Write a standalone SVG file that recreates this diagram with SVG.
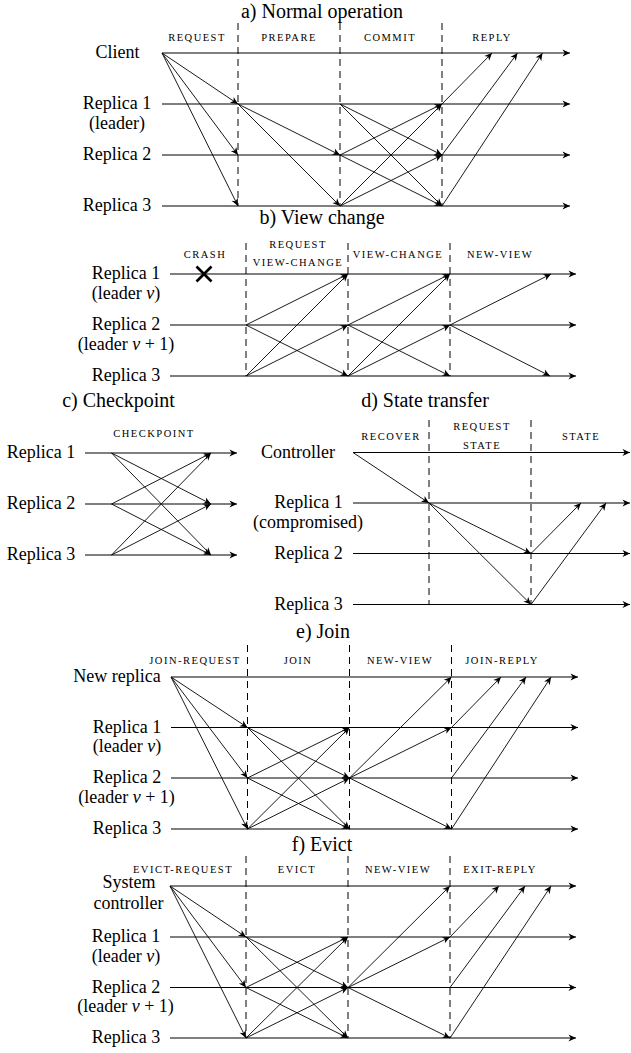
<svg xmlns="http://www.w3.org/2000/svg" width="631" height="1053" viewBox="0 0 631 1053">
<style>
.tl{stroke:#000;stroke-width:1.1;fill:none;marker-end:url(#ah)}
.m{stroke:#000;stroke-width:0.9;fill:none;marker-end:url(#ah)}
.d{stroke:#000;stroke-width:1;stroke-dasharray:7 5;fill:none}
text{font-family:"Liberation Serif","Times New Roman",serif;fill:#000}
.lb{font-size:18px;text-anchor:middle}
.tt{font-size:20px;text-anchor:middle}
.ph{font-size:10.5px;letter-spacing:1.5px;text-anchor:middle}
.x{stroke:#000;stroke-width:2.6}
</style>
<defs>
<marker id="ah" viewBox="-9 -5 10 10" refX="0" refY="0" markerWidth="10" markerHeight="10" markerUnits="userSpaceOnUse" orient="auto">
<path d="M0,0 L-7.5,-3.4 L-5.3,0 L-7.5,3.4 Z" fill="#000"/>
</marker>
</defs>

<!-- a) Normal operation -->
<g id="secA">
<text class="tt" x="322" y="18">a) Normal operation</text>
<g id="a-phases">
<text class="ph" x="197" y="41">REQUEST</text>
<text class="ph" x="289" y="41">PREPARE</text>
<text class="ph" x="390" y="41">COMMIT</text>
<text class="ph" x="492" y="41">REPLY</text>
<line class="d" x1="238" y1="23" x2="238" y2="206"/>
<line class="d" x1="340" y1="23" x2="340" y2="206"/>
<line class="d" x1="442" y1="23" x2="442" y2="206"/>
</g>
<g id="a-client"><text class="lb" x="117.5" y="58">Client</text><line class="tl" x1="162" y1="53" x2="570" y2="53"/></g>
<g id="a-r1"><text class="lb" x="117" y="109">Replica 1</text><text class="lb" x="117" y="128.5">(leader)</text><line class="tl" x1="162" y1="104" x2="570" y2="104"/></g>
<g id="a-r2"><text class="lb" x="117" y="160">Replica 2</text><line class="tl" x1="162" y1="155" x2="570" y2="155"/></g>
<g id="a-r3"><text class="lb" x="117" y="211">Replica 3</text><line class="tl" x1="162" y1="206" x2="570" y2="206"/></g>
<g id="a-connectors">
<line class="m" x1="162" y1="53" x2="238" y2="104"/>
<line class="m" x1="162" y1="53" x2="238" y2="155"/>
<line class="m" x1="162" y1="53" x2="238" y2="206"/>
<line class="m" x1="238" y1="104" x2="340" y2="155"/>
<line class="m" x1="238" y1="104" x2="340" y2="206"/>
<line class="m" x1="340" y1="104" x2="442" y2="155"/>
<line class="m" x1="340" y1="104" x2="442" y2="206"/>
<line class="m" x1="340" y1="155" x2="442" y2="104"/>
<line class="m" x1="340" y1="155" x2="442" y2="206"/>
<line class="m" x1="340" y1="206" x2="442" y2="104"/>
<line class="m" x1="340" y1="206" x2="442" y2="155"/>
<line class="m" x1="442" y1="104" x2="492" y2="53"/>
<line class="m" x1="442" y1="155" x2="517.5" y2="53"/>
<line class="m" x1="442" y1="206" x2="542.5" y2="53"/>
</g>
</g>

<!-- b) View change -->
<g id="secB">
<text class="tt" x="322" y="224">b) View change</text>
<g id="b-phases">
<text class="ph" x="205" y="258">CRASH</text>
<text class="ph" x="298" y="248">REQUEST</text>
<text class="ph" x="298" y="266">VIEW-CHANGE</text>
<text class="ph" x="398" y="258">VIEW-CHANGE</text>
<text class="ph" x="500" y="258">NEW-VIEW</text>
<line class="d" x1="246" y1="243" x2="246" y2="376"/>
<line class="d" x1="348" y1="243" x2="348" y2="376"/>
<line class="d" x1="450" y1="243" x2="450" y2="376"/>
</g>
<g id="b-r1"><text class="lb" x="126" y="279">Replica 1</text><text class="lb" x="126" y="298.5">(leader <tspan font-style="italic">v</tspan>)</text><line class="tl" x1="170" y1="274" x2="576" y2="274"/>
<g id="b-crash"><line class="x" x1="196.5" y1="266.5" x2="211.5" y2="281.5"/><line class="x" x1="196.5" y1="281.5" x2="211.5" y2="266.5"/></g></g>
<g id="b-r2"><text class="lb" x="126" y="330">Replica 2</text><text class="lb" x="126" y="349.5">(leader <tspan font-style="italic">v</tspan> + 1)</text><line class="tl" x1="170" y1="325" x2="576" y2="325"/></g>
<g id="b-r3"><text class="lb" x="126" y="381">Replica 3</text><line class="tl" x1="170" y1="376" x2="576" y2="376"/></g>
<g id="b-connectors">
<line class="m" x1="246" y1="325" x2="348" y2="274"/>
<line class="m" x1="246" y1="325" x2="348" y2="376"/>
<line class="m" x1="246" y1="376" x2="348" y2="274"/>
<line class="m" x1="246" y1="376" x2="348" y2="325"/>
<line class="m" x1="348" y1="325" x2="450" y2="274"/>
<line class="m" x1="348" y1="325" x2="450" y2="376"/>
<line class="m" x1="348" y1="376" x2="450" y2="274"/>
<line class="m" x1="348" y1="376" x2="450" y2="325"/>
<line class="m" x1="450" y1="325" x2="551" y2="274"/>
<line class="m" x1="450" y1="325" x2="550" y2="376"/>
</g>
</g>

<!-- c) Checkpoint -->
<g id="secC">
<text class="tt" x="118.5" y="406.5">c) Checkpoint</text>
<text class="ph" x="154" y="437">CHECKPOINT</text>
<g id="c-r1"><text class="lb" x="41" y="458">Replica 1</text><line class="tl" x1="85" y1="453" x2="237" y2="453"/></g>
<g id="c-r2"><text class="lb" x="41" y="509">Replica 2</text><line class="tl" x1="85" y1="504" x2="237" y2="504"/></g>
<g id="c-r3"><text class="lb" x="41" y="560">Replica 3</text><line class="tl" x1="85" y1="555" x2="237" y2="555"/></g>
<g id="c-connectors">
<line class="m" x1="111.5" y1="453" x2="211" y2="504"/>
<line class="m" x1="111.5" y1="453" x2="211" y2="555"/>
<line class="m" x1="111.5" y1="504" x2="211" y2="453"/>
<line class="m" x1="111.5" y1="504" x2="211" y2="555"/>
<line class="m" x1="111.5" y1="555" x2="211" y2="453"/>
<line class="m" x1="111.5" y1="555" x2="211" y2="504"/>
</g>
</g>

<!-- d) State transfer -->
<g id="secD">
<text class="tt" x="425" y="406.5">d) State transfer</text>
<g id="d-phases">
<text class="ph" x="391" y="440">RECOVER</text>
<text class="ph" x="482" y="430">REQUEST</text>
<text class="ph" x="482" y="449">STATE</text>
<text class="ph" x="581" y="440">STATE</text>
<line class="d" x1="429" y1="420" x2="429" y2="604.5"/>
<line class="d" x1="531" y1="420" x2="531" y2="604.5"/>
</g>
<g id="d-ctrl"><text class="lb" x="298" y="457.5">Controller</text><line class="tl" x1="353" y1="452.5" x2="630" y2="452.5"/></g>
<g id="d-r1"><text class="lb" x="308.5" y="508">Replica 1</text><text class="lb" x="308" y="527.5">(compromised)</text><line class="tl" x1="353" y1="503" x2="630" y2="503"/></g>
<g id="d-r2"><text class="lb" x="308.5" y="558.5">Replica 2</text><line class="tl" x1="353" y1="553.5" x2="630" y2="553.5"/></g>
<g id="d-r3"><text class="lb" x="308.5" y="609.5">Replica 3</text><line class="tl" x1="353" y1="604.5" x2="630" y2="604.5"/></g>
<g id="d-connectors">
<line class="m" x1="353" y1="452.5" x2="429" y2="503"/>
<line class="m" x1="429" y1="503" x2="531" y2="553.5"/>
<line class="m" x1="429" y1="503" x2="531" y2="604.5"/>
<line class="m" x1="531" y1="553.5" x2="581" y2="503"/>
<line class="m" x1="531" y1="604.5" x2="606" y2="503"/>
</g>
</g>

<!-- e) Join -->
<g id="secE">
<text class="tt" x="323" y="638">e) Join</text>
<g id="e-phases">
<text class="ph" x="195" y="664">JOIN-REQUEST</text>
<text class="ph" x="298" y="664">JOIN</text>
<text class="ph" x="400" y="664">NEW-VIEW</text>
<text class="ph" x="502" y="664">JOIN-REPLY</text>
<line class="d" x1="247.5" y1="645" x2="247.5" y2="829"/>
<line class="d" x1="349.5" y1="645" x2="349.5" y2="829"/>
<line class="d" x1="451.5" y1="645" x2="451.5" y2="829"/>
</g>
<g id="e-new"><text class="lb" x="117" y="681.5">New replica</text><line class="tl" x1="171" y1="677" x2="578" y2="677"/></g>
<g id="e-r1"><text class="lb" x="127" y="732.5">Replica 1</text><text class="lb" x="127" y="752">(leader <tspan font-style="italic">v</tspan>)</text><line class="tl" x1="171" y1="727.5" x2="578" y2="727.5"/></g>
<g id="e-r2"><text class="lb" x="127" y="783">Replica 2</text><text class="lb" x="126.5" y="802.5">(leader <tspan font-style="italic">v</tspan> + 1)</text><line class="tl" x1="171" y1="778" x2="578" y2="778"/></g>
<g id="e-r3"><text class="lb" x="127" y="834">Replica 3</text><line class="tl" x1="171" y1="829" x2="578" y2="829"/></g>
<g id="e-connectors">
<line class="m" x1="171" y1="677" x2="247.5" y2="727.5"/>
<line class="m" x1="171" y1="677" x2="247.5" y2="778"/>
<line class="m" x1="171" y1="677" x2="247.5" y2="829"/>
<line class="m" x1="247.5" y1="727.5" x2="349.5" y2="778"/>
<line class="m" x1="247.5" y1="727.5" x2="349.5" y2="829"/>
<line class="m" x1="247.5" y1="778" x2="349.5" y2="727.5"/>
<line class="m" x1="247.5" y1="778" x2="349.5" y2="829"/>
<line class="m" x1="247.5" y1="829" x2="349.5" y2="727.5"/>
<line class="m" x1="247.5" y1="829" x2="349.5" y2="778"/>
<line class="m" x1="349.5" y1="778" x2="451.5" y2="677"/>
<line class="m" x1="349.5" y1="778" x2="451.5" y2="727.5"/>
<line class="m" x1="349.5" y1="778" x2="451.5" y2="829"/>
<line class="m" x1="451.5" y1="727.5" x2="501" y2="677"/>
<line class="m" x1="451.5" y1="778" x2="526" y2="677"/>
<line class="m" x1="451.5" y1="829" x2="551" y2="677"/>
</g>
</g>

<!-- f) Evict -->
<g id="secF">
<text class="tt" x="322" y="851">f) Evict</text>
<g id="f-phases">
<text class="ph" x="183" y="873">EVICT-REQUEST</text>
<text class="ph" x="297" y="873">EVICT</text>
<text class="ph" x="398" y="873">NEW-VIEW</text>
<text class="ph" x="500" y="873">EXIT-REPLY</text>
<line class="d" x1="246" y1="856" x2="246" y2="1038"/>
<line class="d" x1="348" y1="856" x2="348" y2="1038"/>
<line class="d" x1="450" y1="856" x2="450" y2="1038"/>
</g>
<g id="f-sc"><text class="lb" x="129" y="888">System</text><text class="lb" x="128.5" y="908.5">controller</text><line class="tl" x1="170" y1="886" x2="576" y2="886"/></g>
<g id="f-r1"><text class="lb" x="126" y="942">Replica 1</text><text class="lb" x="126" y="961.5">(leader <tspan font-style="italic">v</tspan>)</text><line class="tl" x1="170" y1="937" x2="576" y2="937"/></g>
<g id="f-r2"><text class="lb" x="126" y="992.5">Replica 2</text><text class="lb" x="125.5" y="1012">(leader <tspan font-style="italic">v</tspan> + 1)</text><line class="tl" x1="170" y1="987.5" x2="576" y2="987.5"/></g>
<g id="f-r3"><text class="lb" x="126" y="1043">Replica 3</text><line class="tl" x1="170" y1="1038" x2="576" y2="1038"/></g>
<g id="f-connectors">
<line class="m" x1="170" y1="886" x2="246" y2="937"/>
<line class="m" x1="170" y1="886" x2="246" y2="987.5"/>
<line class="m" x1="170" y1="886" x2="246" y2="1038"/>
<line class="m" x1="246" y1="937" x2="348" y2="987.5"/>
<line class="m" x1="246" y1="937" x2="348" y2="1038"/>
<line class="m" x1="246" y1="987.5" x2="348" y2="937"/>
<line class="m" x1="246" y1="987.5" x2="348" y2="1038"/>
<line class="m" x1="246" y1="1038" x2="348" y2="937"/>
<line class="m" x1="246" y1="1038" x2="348" y2="987.5"/>
<line class="m" x1="348" y1="987.5" x2="450" y2="886"/>
<line class="m" x1="348" y1="987.5" x2="450" y2="937"/>
<line class="m" x1="348" y1="987.5" x2="450" y2="1038"/>
<line class="m" x1="450" y1="937" x2="499" y2="886"/>
<line class="m" x1="450" y1="987.5" x2="525" y2="886"/>
<line class="m" x1="450" y1="1038" x2="551" y2="886"/>
</g>
</g>
</svg>
